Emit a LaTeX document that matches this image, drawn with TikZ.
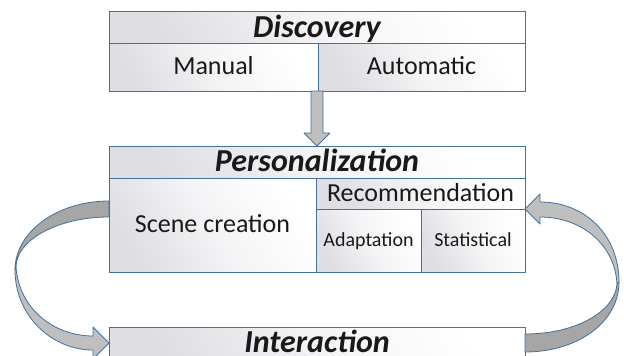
\documentclass[tikz,border=0pt]{standalone}
\usepackage{fontspec}
\setmainfont{Carlito}
\usetikzlibrary{calc}
\definecolor{edge}{RGB}{65,113,156}
\definecolor{cellgray}{RGB}{222,222,227}
\definecolor{cellmid}{RGB}{244,244,246}
\definecolor{arrowlight}{RGB}{191,191,191}
\definecolor{arrowdark}{RGB}{166,166,166}
\definecolor{txt}{RGB}{25,25,25}
\begin{document}
\begin{tikzpicture}[x=1pt,y=-1pt,
  cell/.style={draw=edge, line width=0.9pt, left color=cellgray, right color=white,
    middle color=cellmid, shading angle=120,
    inner sep=0pt, outer sep=0pt, text=txt, align=center},
  titlecell/.style={cell, font=\fontsize{32}{38}\selectfont\bfseries\itshape,
    text height=25.6pt, text depth=6.4pt},
  bodycell/.style={cell, font=\fontsize{26}{31}\selectfont,
    text height=20.8pt, text depth=5.2pt},
  smallcell/.style={cell, font=\fontsize{20}{24}\selectfont,
    text height=16pt, text depth=4pt},
  blockarrow/.style={draw=edge, line width=0.8pt, line join=round},
]
\useasboundingbox (0,0) rectangle (624,356);
\clip (0,0) rectangle (624,356);

% Discovery
\node[titlecell, minimum width=416pt, minimum height=31pt] (discT) at (317,27.5) {Discovery};
\node[bodycell, minimum width=209pt, minimum height=48pt] (manual) at (213.5,67) {Manual};
\node[bodycell, minimum width=207pt, minimum height=48pt] (automatic) at (421.5,67) {Automatic};

% Personalization
\node[titlecell, minimum width=416pt, minimum height=32pt] (persT) at (317,162) {Personalization};
\node[bodycell, minimum width=207pt, minimum height=94pt] (scene) at (212.5,225) {Scene creation};
\node[bodycell, minimum width=209pt, minimum height=31pt] (rec) at (420.5,193.5) {Recommendation};
\node[smallcell, minimum width=105pt, minimum height=63pt] (adapt) at (368.5,240.5) {Adaptation};
\node[smallcell, minimum width=104pt, minimum height=63pt] (stat) at (473,240.5) {Statistical};

% Interaction
\node[titlecell, minimum width=416pt, minimum height=32pt] (interT) at (317,343) {Interaction};

% straight arrow Discovery -> Personalization
\draw[blockarrow, fill=arrowlight] let \p1=(discT.center |- manual.south), \p2=(persT.north) in
  (\x1-6pt,\y1) -- (\x1-6pt,\y2+13pt) -- (\x1-13pt,\y2+13pt) -- (\p2)
  -- (\x1+13pt,\y2+13pt) -- (\x1+6pt,\y2+13pt) -- (\x1+6pt,\y1) -- cycle;

% curved arrow Personalization -> Interaction (left)
\begin{scope}[shift={(scene.west |- rec.south)}]
  \draw[blockarrow, fill=arrowlight]
    (-94,61) .. controls (-94,106) and (-58,141) .. (-16,141)
    -- (-16,150) -- (0,134) -- (-16,118) -- (-16,127)
    .. controls (-55,127) and (-90,100) .. (-93,58) -- cycle;
  \draw[blockarrow, fill=arrowdark]
    (0,-8) .. controls (-52,-8) and (-94,23) .. (-94,61)
    -- (-93,58) .. controls (-93,31) and (-51,8) .. (0,8) -- cycle;
\end{scope}

% curved arrow Interaction -> Recommendation (right)
\begin{scope}[shift={(interT.east)}]
  \draw[blockarrow, fill=arrowlight]
    (94,-61) .. controls (94,-108) and (60,-141) .. (15,-141)
    -- (15,-149) -- (0,-134) -- (15,-119) -- (15,-126)
    .. controls (57,-126) and (90,-98) .. (92,-59) -- cycle;
  \draw[blockarrow, fill=arrowdark]
    (0,9) .. controls (53,9) and (94,-21) .. (94,-61)
    -- (92,-59) .. controls (90,-31) and (50,-9) .. (0,-9) -- cycle;
\end{scope}
\end{tikzpicture}
\end{document}
